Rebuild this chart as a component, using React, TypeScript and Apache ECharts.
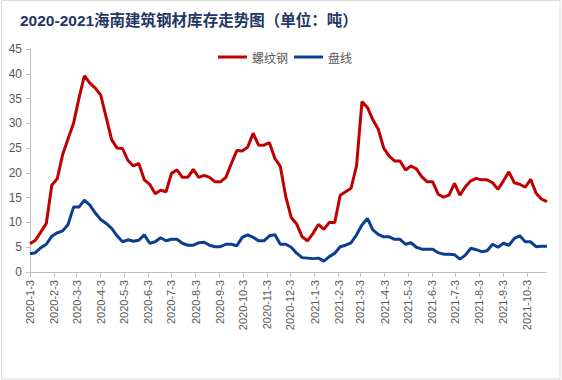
import React, { useEffect, useRef } from "react";
import * as echarts from "echarts";

const titleText = "2020-2021海南建筑钢材库存走势图（单位：吨）";
const seriesNames = ["螺纹钢", "盘线"];
const weekStep = 7;
const lastDay = 665;

// weekly values, first point 2020-1-3
const rebar = [
  5.7, 6.4, 8.1, 9.8, 17.5, 18.8, 23.7, 26.9, 30.0, 35.1,
  39.6, 38.1, 37.1, 35.7, 31.2, 26.7, 25.0, 24.9, 22.5, 21.4,
  21.9, 18.6, 17.7, 15.8, 16.5, 16.2, 19.9, 20.6, 19.1, 19.1,
  20.7, 19.1, 19.5, 19.1, 18.2, 18.2, 19.1, 21.9, 24.5, 24.4,
  25.2, 28.0, 25.6, 25.6, 26.1, 22.9, 21.3, 15.2, 11.0, 9.7,
  7.1, 6.3, 7.8, 9.6, 8.6, 10.0, 10.0, 15.5, 16.2, 16.9,
  21.4, 34.4, 33.2, 30.7, 28.8, 25.0, 23.4, 22.4, 22.4, 20.6,
  21.4, 20.8, 19.2, 18.2, 18.2, 15.7, 15.1, 15.5, 17.9, 15.5,
  17.2, 18.4, 18.9, 18.6, 18.6, 18.0, 16.7, 18.4, 20.2, 18.0,
  17.7, 17.1, 18.7, 15.9, 14.7, 14.2,
];
const wire = [
  3.7, 3.9, 4.9, 5.6, 7.2, 7.9, 8.3, 9.6, 13.1, 13.1,
  14.5, 13.5, 11.9, 10.6, 9.8, 8.8, 7.3, 6.1, 6.5, 6.2,
  6.4, 7.5, 5.8, 6.1, 6.9, 6.3, 6.6, 6.6, 5.8, 5.4,
  5.4, 5.9, 6.0, 5.4, 5.1, 5.1, 5.6, 5.6, 5.3, 7.0,
  7.5, 7.0, 6.3, 6.3, 7.3, 7.5, 5.6, 5.6, 5.0, 3.8,
  2.9, 2.8, 2.7, 2.8, 2.2, 3.1, 3.8, 5.1, 5.4, 5.9,
  7.5, 9.5, 10.8, 8.5, 7.6, 7.1, 7.1, 6.6, 6.6, 5.6,
  5.9, 5.0, 4.6, 4.6, 4.6, 3.9, 3.6, 3.6, 3.5, 2.6,
  3.4, 4.8, 4.5, 4.1, 4.3, 5.6, 5.0, 5.8, 5.4, 6.8,
  7.3, 6.1, 6.1, 5.1, 5.2, 5.2,
];
const xTickLabels = [
  "2020-1-3", "2020-2-3", "2020-3-3", "2020-4-3", "2020-5-3", "2020-6-3",
  "2020-7-3", "2020-8-3", "2020-9-3", "2020-10-3", "2020-11-3", "2020-12-3",
  "2021-1-3", "2021-2-3", "2021-3-3", "2021-4-3", "2021-5-3", "2021-6-3",
  "2021-7-3", "2021-8-3", "2021-9-3", "2021-10-3",
];
const yTicks = { min: 0, max: 45, interval: 5 };

const DAY = 86400000;
const t0 = Date.UTC(2020, 0, 3);
function dayIndex(label: string) {
  const [y, m, d] = label.split("-").map(Number);
  return Math.round((Date.UTC(y, m - 1, d) - t0) / DAY);
}
function toPairs(values: number[]) {
  return values.map((v, i) => [i * weekStep, v]);
}

const frame = {
  type: "rect",
  shape: { x: 1.5, y: 0.5, width: 558.5, height: 378.5 },
  style: { fill: "none", stroke: "#d9d9d9", lineWidth: 1 },
  silent: true,
};

export default function App() {
  const ref = useRef<HTMLDivElement>(null);
  useEffect(() => {
    document.body.style.margin = "0";
    if (!ref.current) return;
    const chart = echarts.init(ref.current, undefined, { renderer: "svg" });
    const tickIdx = xTickLabels.map(dayIndex);
    chart.setOption({
      animation: false,
      backgroundColor: "#ffffff",
      title: {
        text: titleText,
        left: 15,
        top: 8,
        textStyle: {
          fontSize: 15.5,
          fontWeight: "bold",
          color: "#1f3864",
          fontFamily: "'Liberation Sans', 'Noto Sans CJK SC', sans-serif",
        },
      },
      legend: {
        data: seriesNames,
        top: 46,
        left: 213,
        icon: "rect",
        itemWidth: 29,
        itemHeight: 3,
        itemGap: 6,
        textStyle: {
          fontSize: 12,
          color: "#595959",
          fontFamily: "'Noto Sans CJK SC', sans-serif",
        },
      },
      graphic: [frame],
      grid: { left: 30, right: 15, top: 49, bottom: 108 },
      xAxis: {
        type: "value",
        min: 0,
        max: lastDay,
        axisLine: { show: true, onZero: false, lineStyle: { color: "#bfbfbf", width: 1 } },
        axisTick: { show: true, customValues: tickIdx, length: 5, lineStyle: { color: "#bfbfbf" } },
        axisLabel: { show: false },
        splitLine: { show: false },
      },
      yAxis: {
        type: "value",
        min: yTicks.min,
        max: yTicks.max,
        interval: yTicks.interval,
        axisLine: { show: true, lineStyle: { color: "#bfbfbf", width: 1 } },
        axisTick: { show: true, length: 4, lineStyle: { color: "#bfbfbf" } },
        axisLabel: {
          margin: 8,
          fontSize: 12,
          color: "#595959",
          fontFamily: "'Liberation Sans', Arial, sans-serif",
        },
        splitLine: { show: false },
      },
      series: [
        {
          name: seriesNames[0],
          type: "line",
          data: toPairs(rebar),
          showSymbol: false,
          symbol: "none",
          lineStyle: { color: "#c00000", width: 3 },
          itemStyle: { color: "#c00000" },
        },
        {
          name: seriesNames[1],
          type: "line",
          data: toPairs(wire),
          showSymbol: false,
          symbol: "none",
          lineStyle: { color: "#0b3f8e", width: 3 },
          itemStyle: { color: "#0b3f8e" },
        },
      ],
    });
    const y0 = chart.convertToPixel({ yAxisIndex: 0 }, 0) as number;
    const labels = xTickLabels.map((lab, i) => {
      const px = chart.convertToPixel({ xAxisIndex: 0 }, tickIdx[i]) as number;
      return {
        type: "text",
        x: px,
        y: y0 + 8,
        rotation: Math.PI / 2,
        silent: true,
        style: {
          text: lab,
          align: "right",
          verticalAlign: "middle",
          fontSize: 11,
          fill: "#595959",
          fontFamily: "'Liberation Sans', Arial, sans-serif",
        },
      };
    });
    chart.setOption({ graphic: [frame, ...labels] });
    return () => chart.dispose();
  }, []);
  return <div ref={ref} style={{ width: 562, height: 380 }} />;
}
